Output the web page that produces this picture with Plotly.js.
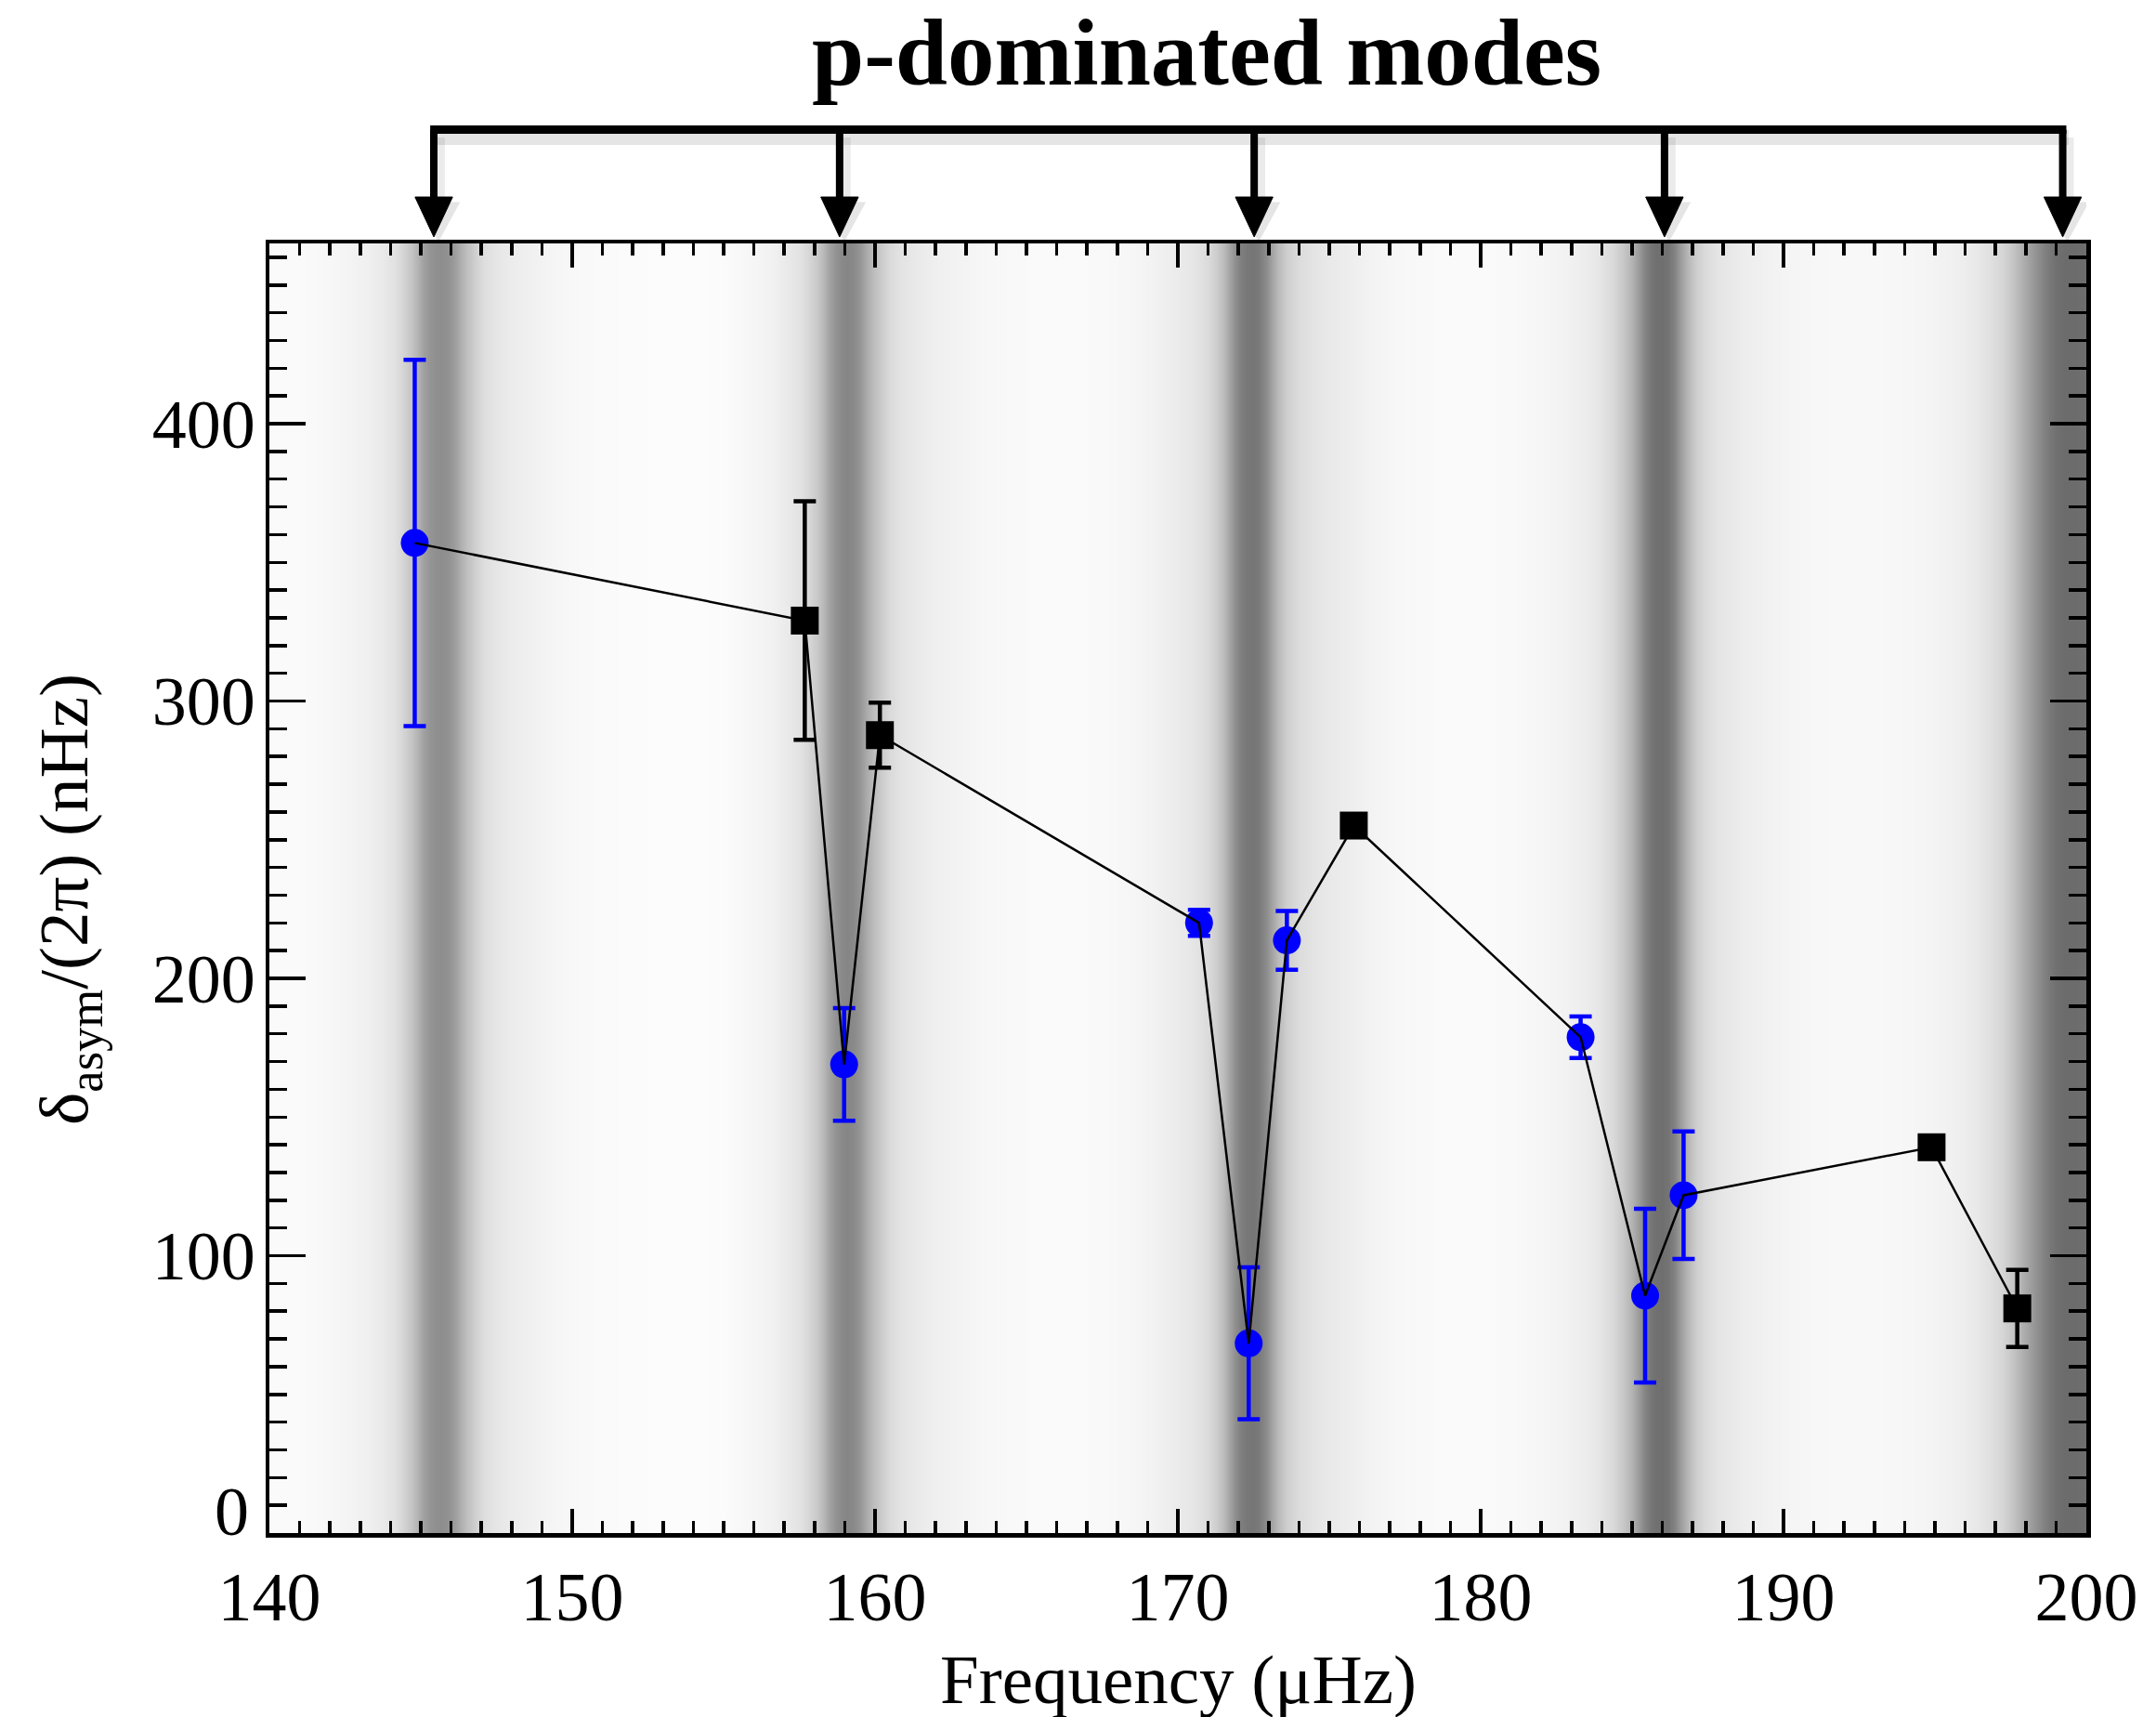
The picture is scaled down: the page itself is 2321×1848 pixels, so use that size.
<!DOCTYPE html>
<html>
<head>
<meta charset="utf-8">
<script src="https://cdn.plot.ly/plotly-3.0.1.min.js"></script>
<style>
  html, body { margin: 0; padding: 0; background: #ffffff; }
  #chart { width: 2321px; height: 1848px; }
</style>
</head>
<body>
<div id="chart"></div>
<script>
// Modes with the blue circles (mixed modes)
const circleFreq = [144.8, 158.98, 170.70, 172.34, 173.60, 183.30, 185.43, 186.70];
const circleAsym = [357.0, 169.0, 220.0, 68.4, 213.7, 178.8, 85.6, 121.8];
const circleErr  = [66.0, 20.3, 4.7, 27.4, 10.6, 7.5, 31.3, 23.0];

// Modes with the black squares
const squareFreq = [157.68, 160.16, 175.81, 194.89, 197.72];
const squareAsym = [329.0, 287.7, 255.1, 139.1, 81.0];
const squareErr  = [43.0, 11.7, 3.0, 3.0, 13.9];

// Nominal p-mode frequencies marked by the arrows
const pModeFreq = [145.43, 158.83, 172.52, 186.07, 199.22];

// Background grey level (0 = black, 255 = white) along the frequency axis
const shadeFreq = [
  140.0, 141.0, 142.0, 142.6, 143.2, 143.7, 144.1, 144.4, 144.7, 144.9,
  145.1, 145.3, 145.5, 145.7, 145.9, 146.1, 146.3, 146.5, 146.8, 147.1,
  147.5, 148.0, 148.6, 149.2, 150.0, 151.0, 152.0, 153.0, 154.0, 155.0,
  155.6, 156.2, 156.7, 157.1, 157.5, 157.8, 158.1, 158.3, 158.5, 158.7,
  158.9, 159.1, 159.3, 159.5, 159.7, 159.9, 160.2, 160.5, 160.9, 161.4,
  162.0, 162.7, 163.5, 164.5, 165.5, 166.5, 167.5, 168.5, 169.2, 169.8,
  170.3, 170.7, 171.0, 171.3, 171.5, 171.7, 171.9, 172.1, 172.3, 172.5,
  172.7, 172.9, 173.1, 173.3, 173.6, 174.0, 174.5, 175.0, 175.6, 176.2,
  177.0, 178.0, 179.0, 180.0, 181.0, 182.0, 182.8, 183.5, 184.0, 184.4,
  184.7, 185.0, 185.2, 185.4, 185.6, 185.8, 186.0, 186.2, 186.4, 186.6,
  186.8, 187.1, 187.4, 187.8, 188.4, 189.0, 189.8, 190.7, 191.7, 192.7,
  193.7, 194.5, 195.3, 195.9, 196.4, 196.8, 197.2, 197.5, 197.8, 198.1,
  198.4, 198.7, 199.0, 199.3, 199.6, 200.0
];
const shadeLevel = [
  250, 250, 247, 244, 240, 234, 226, 214, 196, 178,
  160, 148, 143, 142, 145, 156, 172, 190, 208, 222,
  230, 236, 240, 244, 248, 250, 251, 252, 252, 251,
  248, 244, 240, 234, 226, 216, 200, 182, 162, 146,
  137, 134, 138, 150, 168, 186, 204, 218, 228, 234,
  239, 243, 246, 249, 250, 250, 249, 246, 242, 237,
  232, 226, 218, 204, 188, 166, 142, 126, 119, 118,
  124, 140, 162, 186, 206, 220, 228, 233, 237, 242,
  246, 249, 250, 250, 249, 246, 242, 236, 228, 216,
  200, 178, 156, 134, 118, 112, 111, 116, 132, 156,
  180, 204, 218, 228, 234, 239, 243, 246, 248, 248,
  247, 245, 242, 238, 232, 224, 214, 200, 182, 162,
  142, 124, 112, 108, 108, 110
];

const xTickVals = [140, 150, 160, 170, 180, 190, 200];
const yTickVals = [100, 200, 300, 400];

const serif = 'Liberation Serif, Times New Roman, serif';
const black = '#000000';
const blue = '#0000ff';

// Connecting line through all modes, ordered by frequency
const allModes = circleFreq.map((f, i) => [f, circleAsym[i]])
  .concat(squareFreq.map((f, i) => [f, squareAsym[i]]))
  .sort((a, b) => a[0] - b[0]);

const background = {
  type: 'heatmap',
  x: shadeFreq,
  y: [0, 465],
  z: [shadeLevel, shadeLevel],
  zmin: 0, zmax: 255,
  colorscale: [[0, 'rgb(0,0,0)'], [1, 'rgb(255,255,255)']],
  zsmooth: 'best',
  showscale: false,
  hoverinfo: 'skip'
};

const circles = {
  type: 'scatter', mode: 'markers',
  x: circleFreq, y: circleAsym,
  error_y: { type: 'data', array: circleErr, visible: true, color: blue, thickness: 4.5, width: 12 },
  marker: { symbol: 'circle', size: 30, color: blue, line: { width: 0 } },
  hoverinfo: 'x+y'
};

const track = {
  type: 'scatter', mode: 'lines',
  x: allModes.map(p => p[0]), y: allModes.map(p => p[1]),
  line: { color: black, width: 2.5 },
  hoverinfo: 'skip'
};

const squares = {
  type: 'scatter', mode: 'markers',
  x: squareFreq, y: squareAsym,
  error_y: { type: 'data', array: squareErr, visible: true, color: black, thickness: 4.5, width: 12 },
  marker: { symbol: 'square', size: 30, color: black, line: { width: 0 } },
  hoverinfo: 'x+y'
};

// Bracket and arrows above the frame, in frequency units horizontally
const barY = 1.0882, headTop = 1.036, tipY = 1.005, headHalf = 0.62;
const shadowDrop = 0.006;
const firstMode = pModeFreq[0], lastMode = pModeFreq[pModeFreq.length - 1];
const shapes = [];

// soft drop shadow under the bracket and arrows
shapes.push({
  type: 'line', xref: 'x', yref: 'paper', layer: 'above',
  x0: firstMode, x1: lastMode + 0.2, y0: barY - shadowDrop, y1: barY - shadowDrop,
  line: { color: 'rgba(0,0,0,0.10)', width: 16 }
});
pModeFreq.forEach(f => {
  shapes.push({
    type: 'line', xref: 'x', yref: 'paper', layer: 'above',
    x0: f + 0.15, x1: f + 0.15, y0: barY - shadowDrop, y1: headTop - shadowDrop,
    line: { color: 'rgba(0,0,0,0.08)', width: 14 }
  });
  shapes.push({
    type: 'path', xref: 'x', yref: 'paper', layer: 'above',
    path: `M ${f - headHalf + 0.1},${headTop - shadowDrop + 0.002} L ${f + headHalf + 0.25},${headTop - shadowDrop + 0.002} L ${f + 0.15},${tipY - 0.004} Z`,
    fillcolor: 'rgba(0,0,0,0.10)', line: { width: 0 }
  });
});

shapes.push({
  type: 'line', xref: 'x', yref: 'paper', layer: 'above',
  x0: firstMode - 0.12, x1: lastMode + 0.12,
  y0: barY, y1: barY, line: { color: black, width: 9 }
});
pModeFreq.forEach(f => {
  shapes.push({
    type: 'line', xref: 'x', yref: 'paper', layer: 'above',
    x0: f, x1: f, y0: barY, y1: headTop - 0.002,
    line: { color: black, width: 8 }
  });
  shapes.push({
    type: 'path', xref: 'x', yref: 'paper', layer: 'above',
    path: `M ${f - headHalf},${headTop} L ${f + headHalf},${headTop} L ${f},${tipY} Z`,
    fillcolor: black, line: { color: black, width: 1 }
  });
});

const layout = {
  width: 2321, height: 1848,
  margin: { l: 290, r: 75, t: 262, b: 198 },
  paper_bgcolor: '#ffffff', plot_bgcolor: '#ffffff',
  showlegend: false,
  font: { family: serif, color: black, size: 74 },
  xaxis: {
    range: [140, 200], tickmode: 'array', tickvals: xTickVals,
    ticks: 'inside', ticklen: 26, tickwidth: 3.5, tickcolor: black,
    showline: true, linewidth: 4.5, linecolor: black, mirror: 'allticks',
    showgrid: false, zeroline: false,
    tickfont: { family: serif, size: 74, color: black },
    ticklabelstandoff: 1,
    minor: { dtick: 1, tick0: 140, ticks: 'inside', ticklen: 13, tickwidth: 3.5, tickcolor: black, showgrid: false }
  },
  yaxis: {
    range: [0, 465], tickmode: 'array', tickvals: yTickVals,
    ticks: 'inside', ticklen: 39, tickwidth: 3.5, tickcolor: black,
    showline: true, linewidth: 4.5, linecolor: black, mirror: 'allticks',
    showgrid: false, zeroline: false,
    tickfont: { family: serif, size: 74, color: black },
    ticklabelstandoff: -4,
    minor: { dtick: 10, tick0: 0, ticks: 'inside', ticklen: 19, tickwidth: 3.5, tickcolor: black, showgrid: false }
  },
  shapes: shapes,
  annotations: [
    { text: '<b>p-dominated modes</b>', xref: 'paper', yref: 'paper', x: 0.516, y: 1.1477,
      xanchor: 'center', yanchor: 'middle', showarrow: false,
      font: { family: serif, size: 101, color: black } },
    { text: 'Frequency (μHz)', xref: 'paper', yref: 'paper', x: 0.5, y: -0.1138,
      xanchor: 'center', yanchor: 'middle', showarrow: false,
      font: { family: serif, size: 75, color: black } },
    { text: 'δ<sub>asym</sub>/(2π) (nHz)', xref: 'paper', yref: 'paper', x: -0.1104, y: 0.4914,
      xanchor: 'center', yanchor: 'middle', textangle: -90, showarrow: false,
      font: { family: serif, size: 75, color: black } },
    { text: '0', xref: 'paper', yref: 'y', x: 0, y: 7.7, xshift: -20,
      xanchor: 'right', yanchor: 'middle', showarrow: false,
      font: { family: serif, size: 74, color: black } }
  ]
};

Plotly.newPlot('chart', [background, circles, track, squares], layout, { staticPlot: true, displayModeBar: false });
</script>
</body>
</html>
